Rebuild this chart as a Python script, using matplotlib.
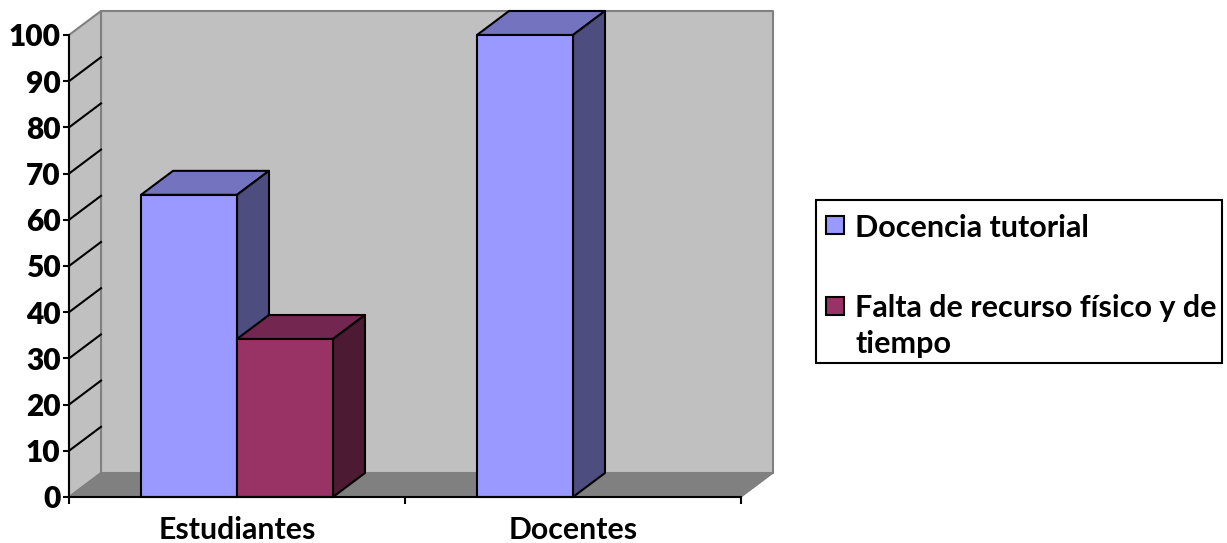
import matplotlib
matplotlib.use("Agg")
import matplotlib.pyplot as plt
from matplotlib.patches import Polygon, Rectangle

W, H = 1227, 543

categorias = ["Estudiantes", "Docentes"]
series = ["Docencia tutorial", "Falta de recurso físico y de\ntiempo"]
docencia = [65.4, 100]
falta = [34.2, 0]
yticks = [0, 10, 20, 30, 40, 50, 60, 70, 80, 90, 100]

plt.rcParams["font.family"] = ["Lato", "DejaVu Sans"]
plt.rcParams["font.weight"] = "bold"

# profundidad del efecto 3D, en unidades de datos
DX = 32 / 336
DY = 24 / 4.62
ANCHO = 96 / 336

AZUL = ("#9999FF", "#7373BF", "#4D4D80")
VINO = ("#993366", "#732650", "#4D1A33")

fig = plt.figure(figsize=(W / 100, H / 100), dpi=100)
ax = fig.add_axes([69 / W, 1 - 497 / H, 672 / W, 462 / H])
ax.set_xlim(0, 2)
ax.set_ylim(0, 100)
ax.patch.set_visible(False)


def cara(puntos, color, edge="black", lw=1.5, z=3):
    ax.add_patch(Polygon(puntos, closed=True, facecolor=color, edgecolor=edge,
                         linewidth=lw, zorder=z, clip_on=False, joinstyle="round"))


# paredes y suelo
cara([(DX, DY), (2 + DX, DY), (2 + DX, 100 + DY), (DX, 100 + DY)], "#C0C0C0", "#808080", 1.5, 1)
cara([(0, 0), (DX, DY), (DX, 100 + DY), (0, 100)], "#C0C0C0", "#808080", 1.5, 1)
cara([(0, 0), (2, 0), (2 + DX, DY), (DX, DY)], "#808080", "#808080", 1, 1)

# lineas de la pared lateral
for v in yticks[1:-1]:
    ax.plot([0, DX], [v, v + DY], color="black", lw=1.5, zorder=2, clip_on=False)


def barra(x, v, colores, z):
    frente, arriba, lado = colores
    ax.bar(x, v, width=ANCHO, align="edge", color=frente, edgecolor="black",
           linewidth=1.5, zorder=z + 0.5, clip_on=False)
    cara([(x, v), (x + ANCHO, v), (x + ANCHO + DX, v + DY), (x + DX, v + DY)], arriba, z=z)
    cara([(x + ANCHO, 0), (x + ANCHO + DX, DY), (x + ANCHO + DX, v + DY), (x + ANCHO, v)], lado, z=z)


for i in range(len(categorias)):
    centro = i + 0.5
    barra(centro - ANCHO, docencia[i], AZUL, 3 + i)
    if falta[i] > 0:
        barra(centro, falta[i], VINO, 3 + i + 0.6)

# ejes
for s in ["top", "right"]:
    ax.spines[s].set_visible(False)
for s in ["left", "bottom"]:
    ax.spines[s].set_linewidth(1.5)
    ax.spines[s].set_zorder(10)

ax.set_yticks(yticks)
ax.tick_params(axis="y", length=4, width=1.5, labelsize=21.5, pad=2)
for t in ax.get_yticklabels():
    t.set_fontweight("heavy")
ax.set_xticks([0, 1, 2])
ax.set_xticklabels([])
ax.tick_params(axis="x", which="major", length=5, width=1.5)
ax.set_xticks([0.5, 1.5], minor=True)
ax.set_xticklabels(categorias, minor=True)
ax.tick_params(axis="x", which="minor", length=0, labelsize=21.8, pad=14)


def px(x, y):
    return x / W, 1 - y / H


# leyenda dibujada a mano, la caja no sale igual con fig.legend
x0, y1 = px(816, 363)
x1, y0 = px(1222, 200)
fig.add_artist(Rectangle((x0, y1), x1 - x0, y0 - y1, transform=fig.transFigure,
                         facecolor="white", edgecolor="black", linewidth=1.5))
for colores, top in zip([AZUL, VINO], [216, 297]):
    xa, ya = px(826, top + 18)
    fig.add_artist(Rectangle((xa, ya), 18 / W, 18 / H, transform=fig.transFigure,
                             facecolor=colores[0], edgecolor="black", linewidth=1.5))
fig.text(*px(855, 237), series[0], fontsize=22, va="baseline", ha="left")
fig.text(*px(855, 353), series[1], fontsize=22, va="baseline", ha="left", linespacing=1.33)

fig.savefig("out.png", dpi=100)
